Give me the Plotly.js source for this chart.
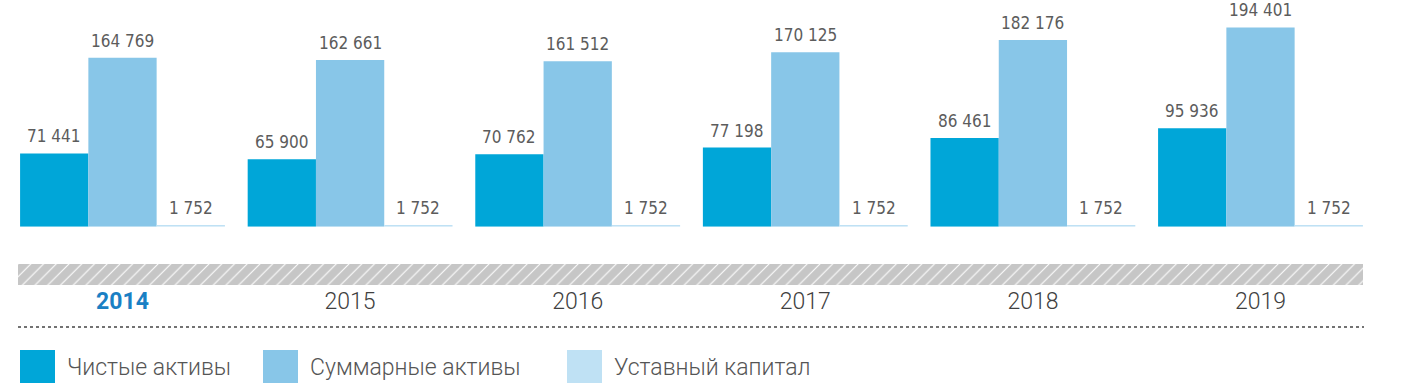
<!DOCTYPE html>
<html><head><meta charset="utf-8">
<script src="https://cdn.plot.ly/plotly-3.0.1.min.js"></script>
<style>html,body{margin:0;padding:0;background:#fff;}#chart{width:1404px;height:389px;}</style>
</head><body><div id="chart"></div>
<script>
// ---- data ----
var years = ['2014', '2015', '2016', '2017', '2018', '2019'];
var netAssets = [71441, 65900, 70762, 77198, 86461, 95936];
var totalAssets = [164769, 162661, 161512, 170125, 182176, 194401];
var charterCapital = [1752, 1752, 1752, 1752, 1752, 1752];
var seriesNames = ['Чистые активы', 'Суммарные активы', 'Уставный капитал'];
var seriesColors = ['#00a6d8', '#88c6e8', '#bfe1f4'];
var highlightYear = '2014';

// ---- layout constants ----
var W = 1404, H = 389;
var xDom = [8.7 / W, 1374.3 / W];
var yDom = [(H - 226.7) / H, (H - 5) / H];
var yMax = 216300;
var bargap = 0.1;

function fmt(v) { return String(v).replace(/\B(?=(\d{3})+(?!\d))/g, ' '); }

var seriesVals = [netAssets, totalAssets, charterCapital];
var traces = seriesVals.map(function (vals, i) {
  return {
    type: 'bar', x: years, y: vals, name: seriesNames[i],
    marker: { color: seriesColors[i], line: { width: 0 } }, hoverinfo: 'skip', showlegend: false
  };
});
// hatched band
traces.push({
  type: 'bar', x: [0.5], y: [1], width: [1], xaxis: 'x2', yaxis: 'y2',
  marker: { color: '#c6c6c6', line: { width: 0 },
    pattern: { shape: '/', bgcolor: '#c6c6c6', fgcolor: '#ffffff', size: 9, solidity: 0.12, fillmode: 'replace' } },
  hoverinfo: 'skip', showlegend: false
});

var catPx = (xDom[1] - xDom[0]) * W / years.length;
var barPx = catPx * (1 - bargap) / 3;
var annotations = [];
seriesVals.forEach(function (vals, i) {
  vals.forEach(function (v, j) {
    annotations.push({
      x: j, y: v, xref: 'x', yref: 'y', xshift: (i - 1) * barPx,
      yanchor: 'bottom', yshift: 5, showarrow: false, text: fmt(v),
      font: { family: 'DejaVu Sans Condensed, DejaVu Sans, sans-serif', size: 17, color: '#5c5c5c' }
    });
  });
});

// manual legend
var legendSquaresX = [20, 263, 567];
var shapes = [];
seriesNames.forEach(function (n, i) {
  var x0 = legendSquaresX[i];
  shapes.push({ type: 'rect', xref: 'paper', yref: 'paper', x0: x0 / W, x1: (x0 + 35) / W,
    y0: (H - 383) / H, y1: (H - 350) / H, fillcolor: seriesColors[i], line: { width: 0 } });
  annotations.push({ xref: 'paper', yref: 'paper', x: (x0 + 45) / W, y: (H - 367) / H,
    xanchor: 'left', yanchor: 'middle', showarrow: false, text: n,
    font: { family: 'Roboto, sans-serif', size: 23, color: '#555555', weight: 300 } });
});
// dotted separator
shapes.push({ type: 'line', xref: 'paper', yref: 'paper', x0: 18 / W, x1: 1364 / W,
  y0: (H - 327) / H, y1: (H - 327) / H, line: { color: '#444', width: 1.5, dash: 'dot' } });

var tickvals = years.map(function (y, j) { return j; });
var ticktext = years.map(function (y) {
  return y === highlightYear ? '<b><span style="color:#1a80c4">' + y + '</span></b>' : y;
});

var layout = {
  width: W, height: H, margin: { l: 0, r: 0, t: 0, b: 0 },
  paper_bgcolor: '#fff', plot_bgcolor: 'rgba(0,0,0,0)',
  barmode: 'group', bargap: bargap, bargroupgap: 0,
  xaxis: { domain: xDom, type: 'category', range: [-0.5, years.length - 0.5], autorange: false,
    tickmode: 'array', tickvals: tickvals, ticktext: ticktext, tickangle: 0,
    showgrid: false, zeroline: false, showline: false, ticks: '',
    ticklabelstandoff: 58,
    tickfont: { family: 'Roboto, sans-serif', size: 23, color: '#404040', weight: 300 } },
  yaxis: { domain: yDom, range: [0, yMax], autorange: false, visible: false },
  xaxis2: { domain: [18 / W, 1363 / W], range: [0, 1], visible: false, anchor: 'y2' },
  yaxis2: { domain: [(H - 285) / H, (H - 264) / H], range: [0, 1], visible: false, anchor: 'x2' },
  annotations: annotations, shapes: shapes, showlegend: false
};

Plotly.newPlot('chart', traces, layout, { displayModeBar: false, staticPlot: true });
</script></body></html>
